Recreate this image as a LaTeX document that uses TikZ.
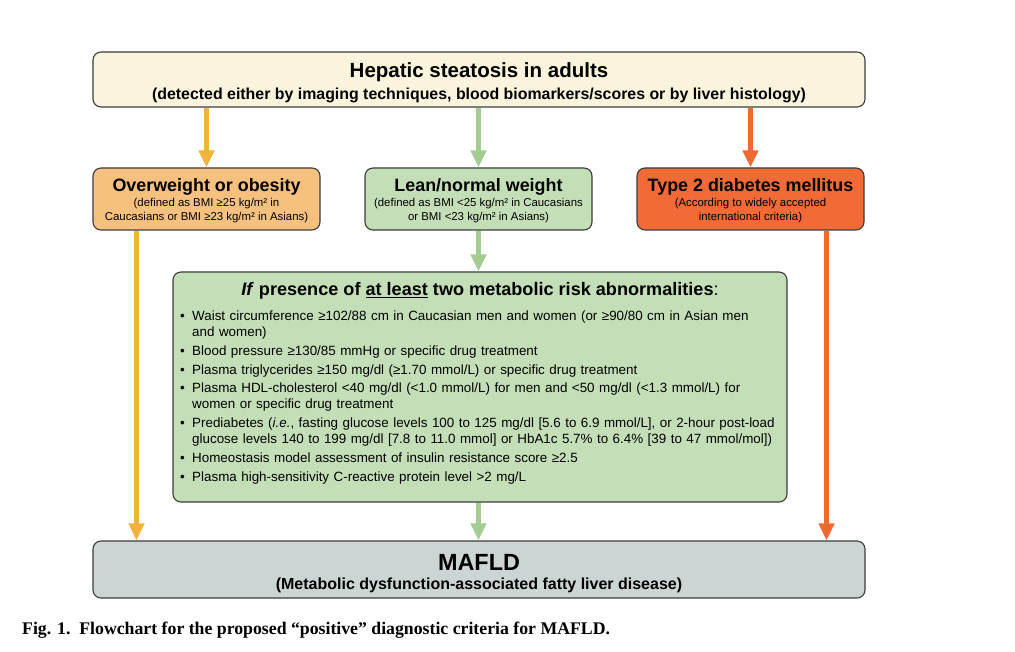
\documentclass[tikz,border=0pt]{standalone}
\usepackage{fontspec}
\setmainfont{Liberation Sans}
\newfontfamily\capfont{Liberation Serif}
\usetikzlibrary{arrows.meta,calc}
\definecolor{topfill}{HTML}{FBF4DC}
\definecolor{orfill}{HTML}{F6C17F}
\definecolor{orarrow}{HTML}{F2B33D}
\definecolor{grfill}{HTML}{C4DFB7}
\definecolor{grarrow}{HTML}{A3CB92}
\definecolor{rdfill}{HTML}{F26B36}
\definecolor{rdarrow}{HTML}{EE6A33}
\definecolor{mafill}{HTML}{CBD5D3}
\definecolor{edge}{HTML}{3C3C3C}
\tikzset{
  box/.style={draw=edge, line width=1.1pt, rounded corners=8pt, inner sep=0pt},
  arr/.style={line width=4.5pt, -{Triangle[width=15pt,length=17pt]}},
  txt/.style={inner sep=0pt, align=center},
  ttl/.style={txt, font=\bfseries\fontsize{17.9}{20}\selectfont},
  subt/.style={txt, font=\fontsize{11.4}{14}\selectfont}
}
\newcommand{\bul}[1]{\par\hangindent=12pt\hangafter=1\noindent\makebox[12pt][l]{•}#1}
\begin{document}
\begin{tikzpicture}[x=1pt,y=-1pt]
\useasboundingbox (0,0) rectangle (1015,652);
\fill[white] (0,0) rectangle (1015,652);
% top box
\node[box, fill=topfill, minimum width=772pt, minimum height=55pt] (top) at (479,79.5) {};
\node[txt, font=\bfseries\fontsize{20.5}{22}\selectfont] (topt) at (479,72) {Hepatic steatosis in adults};
\node[txt, font=\bfseries\fontsize{15.9}{18}\selectfont] (tops) at (479,95)
  {(detected either by imaging techniques, blood biomarkers/scores or by liver histology)};
% row 2
\node[box, fill=orfill, minimum width=227pt, minimum height=62pt] (ob) at (206.5,199) {};
\node[ttl] (obt) at (206.5,187) {Overweight or obesity};
\node[subt] (obs) at (206.5,210.5) {(defined as BMI ≥25 kg/m² in\\Caucasians or BMI ≥23 kg/m² in Asians)};
\node[box, fill=grfill, minimum width=227pt, minimum height=62pt] (ln) at (478.5,199) {};
\node[ttl] (lnt) at (478.5,187) {Lean/normal weight};
\node[subt] (lns) at (478.5,210.5) {(defined as BMI <25 kg/m² in Caucasians\\or BMI <23 kg/m² in Asians)};
\node[box, fill=rdfill, minimum width=227pt, minimum height=62pt] (dm) at (750.5,199) {};
\node[ttl] (dmt) at (750.5,187) {Type 2 diabetes mellitus};
\node[subt] (dms) at (750.5,210.5) {(According to widely accepted\\international criteria)};
% big box
\node[box, fill=grfill, minimum width=614pt, minimum height=230pt] (mr) at (480,387) {};
\node[anchor=north, inner sep=0pt, font=\fontsize{18.1}{20}\selectfont] (mrt) at (480,282)
  {\textbf{\textit{If} presence of \underline{at least} two metabolic risk abnormalities}:};
\node[anchor=north west, inner sep=0pt, text width=600pt, align=left,
      font=\fontsize{13.4}{16}\selectfont] (mri) at (180,302)
  {\setlength{\parskip}{2.7pt}%
   \bul{Waist circumference ≥102/88 cm in Caucasian men and women (or ≥90/80 cm in Asian men\newline and women)}
   \bul{Blood pressure ≥130/85 mmHg or specific drug treatment}
   \bul{Plasma triglycerides ≥150 mg/dl (≥1.70 mmol/L) or specific drug treatment}
   \bul{Plasma HDL-cholesterol <40 mg/dl (<1.0 mmol/L) for men and <50 mg/dl (<1.3 mmol/L) for\newline women or specific drug treatment}
   \bul{Prediabetes (\textit{i.e.}, fasting glucose levels 100 to 125 mg/dl [5.6 to 6.9 mmol/L], or 2-hour post-load\newline glucose levels 140 to 199 mg/dl [7.8 to 11.0 mmol] or HbA1c 5.7\% to 6.4\% [39 to 47 mmol/mol])}
   \bul{Homeostasis model assessment of insulin resistance score ≥2.5}
   \bul{Plasma high-sensitivity C-reactive protein level >2 mg/L}};
% MAFLD
\node[box, fill=mafill, minimum width=772pt, minimum height=57pt] (ma) at (479,569.5) {};
\node[txt, font=\bfseries\fontsize{23.4}{26}\selectfont] (mat) at (479,562.5) {MAFLD};
\node[txt, font=\bfseries\fontsize{16}{18}\selectfont] (mas) at (479,585)
  {(Metabolic dysfunction-associated fatty liver disease)};
% arrows
\draw[arr, orarrow] (top.south -| ob.north) -- (ob.north);
\draw[arr, grarrow] (top.south -| ln.north) -- (ln.north);
\draw[arr, rdarrow] (top.south -| dm.north) -- (dm.north);
\draw[arr, grarrow] (ln.south) -- (mr.north -| ln.south);
\draw[arr, grarrow] (mr.south -| ln.south) -- (ma.north -| ln.south);
\coordinate (oa) at ($(ob.south west)+(44,0)$);
\coordinate (ra) at ($(dm.south east)+(-38,0)$);
\draw[arr, orarrow] (oa) -- (oa |- ma.north);
\draw[arr, rdarrow] (ra) -- (ra |- ma.north);
% caption
\node[anchor=base west, inner sep=0pt, font=\capfont\bfseries\fontsize{17.75}{20}\selectfont] (cap) at (22,634)
  {Fig. 1.\ \ Flowchart for the proposed “positive” diagnostic criteria for MAFLD.};
\end{tikzpicture}
\end{document}
